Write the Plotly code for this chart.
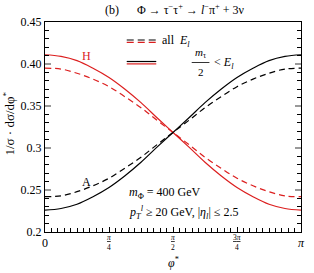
import math
import plotly.graph_objects as go

# sampled phi* values (multiples of pi/16)
phi = [k * math.pi / 16 for k in range(17)]

H_cut = [0.411, 0.409, 0.404, 0.395, 0.384, 0.370, 0.354, 0.336, 0.3185,
         0.301, 0.283, 0.267, 0.253, 0.242, 0.233, 0.228, 0.226]
H_all = [0.395, 0.394, 0.389, 0.382, 0.373, 0.361, 0.348, 0.333, 0.3185,
         0.304, 0.289, 0.276, 0.264, 0.255, 0.248, 0.243, 0.242]
A_cut = [0.226, 0.228, 0.233, 0.242, 0.253, 0.267, 0.283, 0.301, 0.3185,
         0.336, 0.354, 0.370, 0.384, 0.395, 0.404, 0.409, 0.411]
A_all = [0.242, 0.243, 0.248, 0.255, 0.264, 0.276, 0.289, 0.304, 0.3185,
         0.333, 0.348, 0.361, 0.373, 0.382, 0.389, 0.394, 0.395]

xtick_vals = [0, math.pi / 4, math.pi / 2, 3 * math.pi / 4, math.pi]
xtick_text = ["0", "", "", "", "<i>π</i>"]
xfrac_vals = [math.pi / 4, math.pi / 2, 3 * math.pi / 4]
xfrac_text = ["<u><i>π</i></u><br>4", "<u><i>π</i></u><br>2", "<u>3<i>π</i></u><br>4"]
ytick_vals = [0.2, 0.25, 0.3, 0.35, 0.4, 0.45]
ytick_text = ["0.2", "0.25", "0.3", "0.35", "0.40", "0.45"]

RED = "#dc1e1e"
BLK = "#000000"
FONT = "Liberation Serif"

fig = go.Figure()
fig.add_trace(go.Scatter(x=phi, y=H_all, mode="lines", line=dict(color=RED, width=1.2, dash="6px,4px", shape="spline")))
fig.add_trace(go.Scatter(x=phi, y=A_all, mode="lines", line=dict(color=BLK, width=1.2, dash="6px,4px", shape="spline")))
fig.add_trace(go.Scatter(x=phi, y=H_cut, mode="lines", line=dict(color=RED, width=1.2, shape="spline")))
fig.add_trace(go.Scatter(x=phi, y=A_cut, mode="lines", line=dict(color=BLK, width=1.2, shape="spline")))

W, H = 314, 273
L, R, T, B = 45, 9, 22, 41
pw, ph = W - L - R, H - T - B


def px(x):
    return (x - L) / pw


def py(y):
    return (H - B - y) / ph


shapes = []
# legend symbols
shapes.append(dict(type="line", xref="paper", yref="paper", x0=px(128), x1=px(158), y0=py(40), y1=py(40),
                   line=dict(color=BLK, width=1.2, dash="7px,4px")))
shapes.append(dict(type="line", xref="paper", yref="paper", x0=px(128), x1=px(158), y0=py(42.4), y1=py(42.4),
                   line=dict(color=RED, width=1.2, dash="7px,4px")))
shapes.append(dict(type="line", xref="paper", yref="paper", x0=px(128), x1=px(158), y0=py(61.5), y1=py(61.5),
                   line=dict(color=BLK, width=1.2)))
shapes.append(dict(type="line", xref="paper", yref="paper", x0=px(128), x1=px(158), y0=py(63.9), y1=py(63.9),
                   line=dict(color=RED, width=1.2)))
# fraction bar
shapes.append(dict(type="line", xref="paper", yref="paper", x0=px(194), x1=px(212), y0=py(62.5), y1=py(62.5),
                   line=dict(color=BLK, width=0.8)))

ann = []


def add_text(text, x, y, size=12, color=BLK, xanchor="left", yanchor="middle", angle=0):
    ann.append(dict(text=text, x=px(x), y=py(y), xref="paper", yref="paper", showarrow=False,
                    xanchor=xanchor, yanchor=yanchor, textangle=angle,
                    font=dict(family=FONT, size=size, color=color)))


add_text("(b)      Φ → τ<sup>−</sup>τ<sup>+</sup> → <i>l</i><sup>−</sup>π<sup>+</sup> + 3ν", 177, 10, 12, xanchor="center")
add_text("all  <i>E<sub>l</sub></i>", 162, 41, 12)
add_text("<i>m</i><sub>τ</sub>", 203, 53, 11, xanchor="center")
add_text("2", 203, 72, 11, xanchor="center")
add_text("&lt; <i>E<sub>l</sub></i>", 215, 63, 12)
add_text("H", 87, 56, 12, color=RED, xanchor="center")
add_text("A", 87, 182, 12, xanchor="center")
add_text("<i>m</i><sub>Φ</sub> = 400 GeV", 128, 193, 12)
add_text("<i>p<sub>T</sub></i><sup><i>l</i></sup> ≥ 20 GeV, |<i>η<sub>l</sub></i>| ≤ 2.5", 128, 212, 12)
add_text("<i>φ</i><sup>*</sup>", 175, 262, 12, xanchor="center")
add_text("1/σ · dσ/dφ<sup>*</sup>", 8, 124, 13, xanchor="center", angle=-90)

# fractional tick labels
for v, t in zip(xfrac_vals, xfrac_text):
    ann.append(dict(text=t, x=v, y=py(242), xref="x", yref="paper", showarrow=False,
                    xanchor="center", yanchor="middle",
                    font=dict(family=FONT, size=7.5, color=BLK)))

fig.update_layout(
    width=W, height=H,
    margin=dict(l=L, r=R, t=T, b=B),
    paper_bgcolor="white", plot_bgcolor="white",
    showlegend=False,
    font=dict(family=FONT, size=12, color=BLK),
    shapes=shapes, annotations=ann,
)
fig.update_xaxes(range=[0, math.pi * 1.000001], tickmode="array", tickvals=xtick_vals, ticktext=xtick_text,
                 ticks="inside", ticklen=5, tickcolor=BLK, tickwidth=1,
                 minor=dict(dtick=math.pi / 40, tick0=0, ticks="inside", ticklen=4, tickcolor=BLK, tickwidth=0.8),
                 showline=True, linecolor=BLK, linewidth=1, mirror=True, showgrid=False, zeroline=False,
                 tickfont=dict(family=FONT, size=12, color=BLK))
fig.update_yaxes(range=[0.2, 0.45], tickmode="array", tickvals=ytick_vals, ticktext=ytick_text,
                 ticks="inside", ticklen=6, tickcolor="#999999", tickwidth=1.5,
                 minor=dict(dtick=0.01, tick0=0.2, ticks="inside", ticklen=4, tickcolor=BLK, tickwidth=0.8),
                 showline=True, linecolor=BLK, linewidth=1, mirror="allticks", showgrid=False, zeroline=False,
                 tickfont=dict(family=FONT, size=12, color=BLK))

fig.write_html("out.html", post_script="document.body.style.margin='0';",
               config={"displayModeBar": False})
